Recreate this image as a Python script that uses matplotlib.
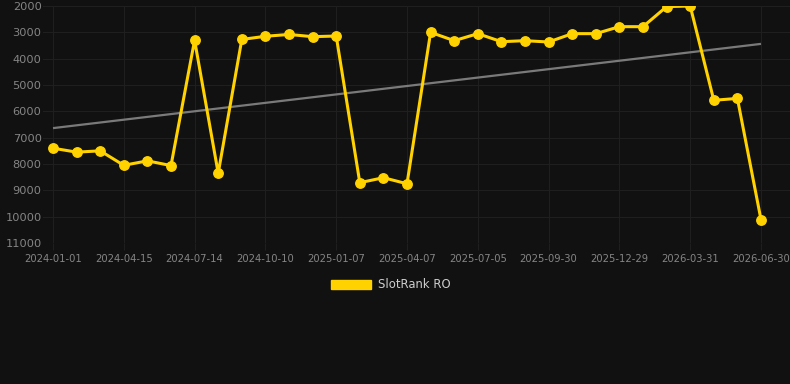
import matplotlib
matplotlib.use("Agg")
import matplotlib.pyplot as plt
from matplotlib.patches import Patch
import numpy as np

dates = [
    "2024-01-01", "2024-02-05", "2024-03-11", "2024-04-15", "2024-05-15", "2024-06-14",
    "2024-07-14", "2024-08-12", "2024-09-11", "2024-10-10", "2024-11-09", "2024-12-09",
    "2025-01-07", "2025-02-06", "2025-03-08", "2025-04-07", "2025-05-07", "2025-06-05",
    "2025-07-05", "2025-08-03", "2025-09-01", "2025-09-30", "2025-10-30", "2025-11-29",
    "2025-12-29", "2026-01-29", "2026-02-28", "2026-03-31", "2026-04-30", "2026-05-31",
    "2026-06-30",
]
rank = [
    7400, 7550, 7500, 8050, 7880, 8060,
    3300, 8350, 3270, 3150, 3080, 3165,
    3140, 8710, 8520, 8750, 3000, 3317,
    3050, 3355, 3317, 3367, 3050, 3050,
    2785, 2785, 2025, 2000, 5580, 5510,
    10115,
]
series_label = "SlotRank RO"
y_ticks = [2000, 3000, 4000, 5000, 6000, 7000, 8000, 9000, 10000, 11000]

BG = "#111111"
GOLD = "#FFD200"
GRID = "#1f1f1f"
TICK = "#858585"

W, H = 790, 384
fig = plt.figure(figsize=(W / 100, H / 100), dpi=100, facecolor=BG)
ax_l, ax_r, ax_t, ax_b = 43, 790, 6, 243
ax = fig.add_axes([ax_l / W, 1 - ax_b / H, (ax_r - ax_l) / W, (ax_b - ax_t) / H])
ax.set_facecolor(BG)

x = np.arange(len(rank))
# linear trend
coef = np.polyfit(x, rank, 1)
trend = np.polyval(coef, x)
ax.plot(x, trend, color="#7a7a7a", lw=1.6, zorder=2, solid_capstyle="butt")
ax.plot(x, rank, color=GOLD, lw=2.2, marker="o", markersize=6.8, zorder=3)

px_per = (761 - 53) / 30
ax.set_xlim(-(53 - ax_l) / px_per, 30 + (ax_r - 761) / px_per)
ax.set_ylim(11000, 2000)

ax.set_yticks(y_ticks)
ax.set_yticklabels([str(v) for v in y_ticks])
tick_idx = list(range(0, len(dates), 3))
ax.set_xticks(tick_idx)
ax.set_xticklabels([dates[i] for i in tick_idx])

ax.grid(True, color=GRID, lw=0.8, zorder=0)
for s in ax.spines.values():
    s.set_visible(False)
ax.tick_params(axis="y", length=0, pad=1, labelsize=8.2, labelcolor=TICK)
ax.tick_params(axis="x", length=5, width=0.8, color=GRID, pad=3, labelsize=7.2, labelcolor=TICK)

fig.legend(handles=[Patch(facecolor=GOLD, edgecolor=GOLD)], labels=[series_label],
           loc="center", bbox_to_anchor=(391 / W, 1 - 285 / H), frameon=False,
           handlelength=3.4, handleheight=0.9, handletextpad=0.6,
           prop={"size": 8.4}, labelcolor="#cccccc")

fig.savefig("out.png", dpi=100, facecolor=BG)
